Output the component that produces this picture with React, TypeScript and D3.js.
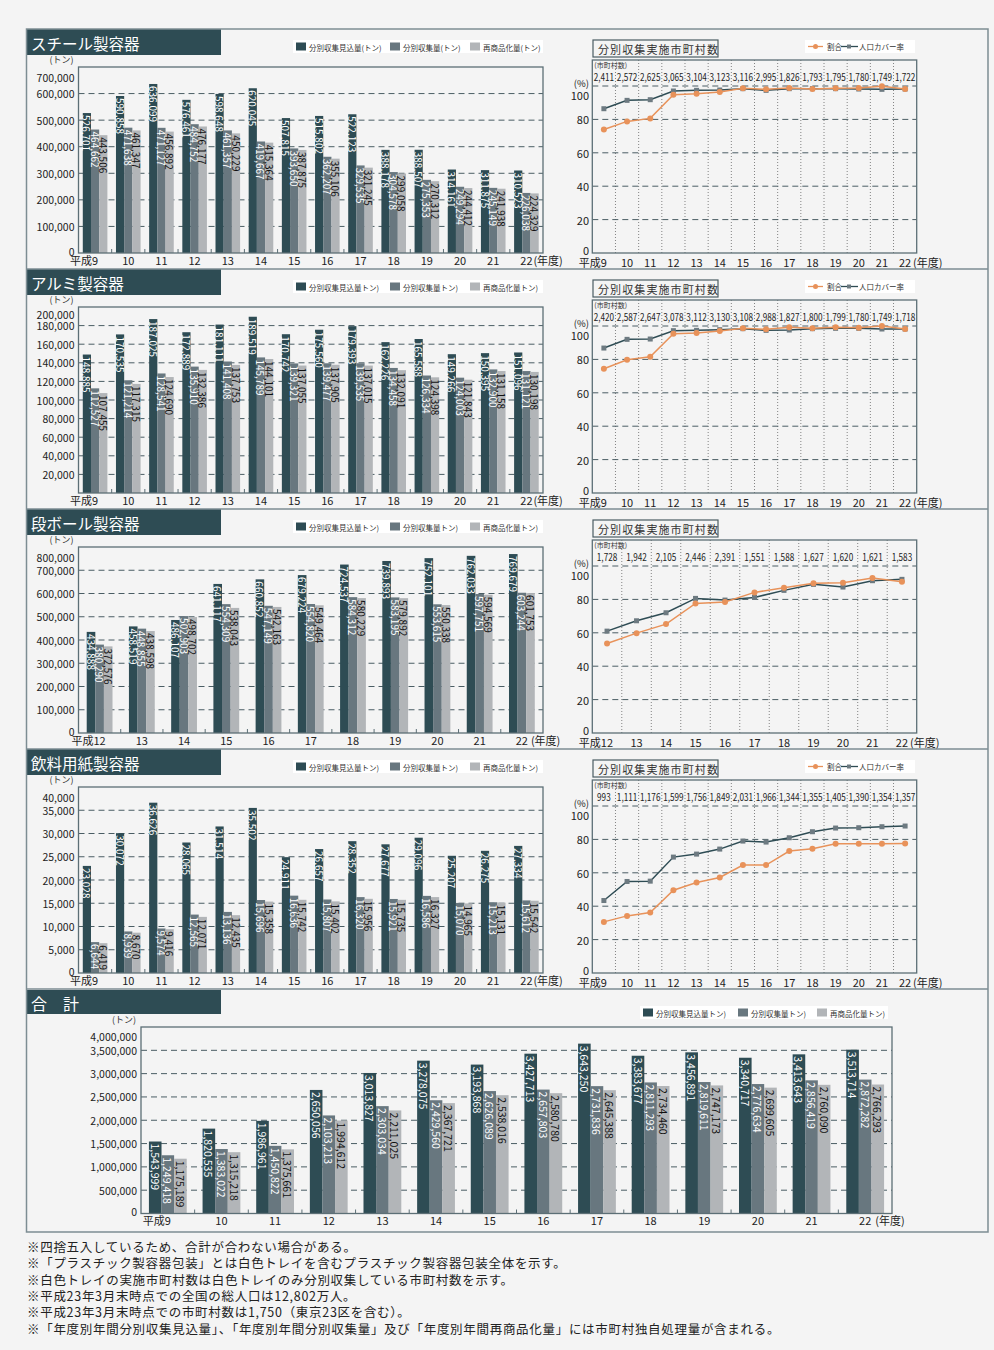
import React from 'react';
import * as d3 from 'd3';

const FONT = "'Noto Sans CJK JP','Noto Sans',sans-serif";

// ---------------- data ----------------
const yearsA = ['9', '10', '11', '12', '13', '14', '15', '16', '17', '18', '19', '20', '21', '22'];
const yearsB = ['12', '13', '14', '15', '16', '17', '18', '19', '20', '21', '22'];

const legendSteel = ['分別収集見込量(トン)', '分別収集量(トン)', '再商品化量(トン)'];
const legendOther = ['分別収集見込量トン)', '分別収集量トン)', '再商品化量トン)'];
const lineLegend = ['割合', '人口カバー率'];

const steelPlanned = [526701, 590858, 636099, 576461, 598648, 620045, 507815, 515802, 522123, 388178, 388507, 314161, 311875, 310523];
const steelCollected = [464662, 471638, 471127, 484752, 461357, 419667, 393650, 362207, 329535, 304578, 275353, 249294, 245149, 226038];
const steelRecycled = [443506, 461347, 456892, 476177, 450229, 415364, 387875, 355106, 321245, 299058, 270312, 244412, 241938, 224329];
const steelTicks = [0, 100000, 200000, 300000, 400000, 500000, 600000, 700000];
const steelMunis = ['2,411', '2,572', '2,625', '3,065', '3,104', '3,123', '3,116', '2,995', '1,826', '1,793', '1,795', '1,780', '1,749', '1,722'];
const steelShare = [74, 78.8, 80.6, 94.8, 95.4, 96.4, 98.6, 98, 98.8, 98.2, 98.6, 98.8, 99.8, 98.2];
const steelCover = [86.4, 91.4, 91.8, 97, 97.4, 97.6, 98.4, 97.4, 98.4, 98.4, 98.4, 98.2, 98, 98.2];

const aluPlanned = [148885, 170535, 187025, 172889, 181111, 189519, 170742, 175560, 179393, 162226, 165588, 149266, 150395, 151096];
const aluCollected = [112527, 121214, 128541, 135910, 141408, 145789, 139321, 139477, 139535, 134458, 126334, 124003, 132900, 131121];
const aluRecycled = [107455, 117315, 124690, 132386, 137753, 144101, 137055, 137905, 137015, 132091, 124398, 121843, 131158, 130198];
const aluTicks = [20000, 40000, 60000, 80000, 100000, 120000, 140000, 160000, 180000, 200000];
const aluMunis = ['2,420', '2,587', '2,647', '3,078', '3,112', '3,130', '3,108', '2,988', '1,827', '1,800', '1,799', '1,780', '1,749', '1,718'];
const aluShare = [74.4, 79.8, 81.6, 95.4, 95.8, 97, 98.6, 98, 99.2, 98.6, 99.2, 99, 100, 98.2];
const aluCover = [86.8, 92, 92.2, 97.2, 97.4, 97.8, 98.4, 97.4, 97.6, 98.4, 98.6, 98.6, 98.2, 98.2];

const cardPlanned = [434888, 458519, 486107, 641117, 660852, 679224, 724537, 739893, 752101, 762033, 769679];
const cardCollected = [380290, 448855, 502903, 554309, 547149, 554820, 584312, 583195, 553615, 597751, 603244];
const cardRecycled = [372576, 438598, 498702, 538043, 542163, 549464, 580229, 579892, 550338, 594569, 601753];
const cardTicks = [0, 100000, 200000, 300000, 400000, 500000, 600000, 700000, 800000];
const cardMunis = ['1,728', '1,942', '2,105', '2,446', '2,391', '1,551', '1,588', '1,627', '1,620', '1,621', '1,583'];
const cardShare = [53.6, 59.8, 65.2, 77.6, 78.4, 84.2, 87, 89.6, 90, 92.8, 90.6];
const cardCover = [61, 67.2, 72, 80.6, 79.6, 81.2, 85.4, 89, 87.4, 91.2, 92];

const drinkPlanned = [23028, 30072, 36626, 28065, 31514, 35502, 24911, 26657, 28352, 27677, 29096, 25207, 26275, 27334];
const drinkCollected = [6644, 8939, 9574, 12565, 13136, 15696, 16636, 15807, 16320, 15921, 16586, 15070, 15213, 15612];
const drinkRecycled = [6419, 8670, 9416, 12071, 12435, 15358, 15742, 15402, 15956, 15735, 16327, 14965, 15131, 15542];
const drinkTicks = [0, 5000, 10000, 15000, 20000, 25000, 30000, 35000, 40000];
const drinkMunis = ['993', '1,111', '1,176', '1,599', '1,756', '1,849', '2,031', '1,966', '1,344', '1,355', '1,405', '1,390', '1,354', '1,357'];
const drinkShare = [30.6, 34.2, 36.2, 49.6, 54.2, 57.2, 64.6, 64.6, 73, 74.4, 77.4, 77.4, 77.4, 77.6];
const drinkCover = [43.4, 54.8, 55, 69.4, 71.2, 74.2, 79, 78.4, 81, 84.6, 86.8, 87, 87.6, 88];

const totalPlanned = [1543999, 1820535, 1986961, 2650056, 3013827, 3278075, 3193868, 3427713, 3643250, 3383677, 3456891, 3340717, 3413643, 3513714];
const totalCollected = [1249418, 1383022, 1450822, 2103213, 2303034, 2429560, 2626089, 2657803, 2731836, 2811293, 2819611, 2776634, 2856419, 2872282];
const totalRecycled = [1175189, 1315218, 1375661, 1994612, 2211025, 2367721, 2538016, 2580780, 2645388, 2734460, 2747173, 2699605, 2760090, 2766293];
const totalTicks = [0, 500000, 1000000, 1500000, 2000000, 2500000, 3000000, 3500000, 4000000];

const footnotes = [
  '※四捨五入しているため、合計が合わない場合がある。',
  '※「プラスチック製容器包装」とは白色トレイを含むプラスチック製容器包装全体を示す。',
  '※白色トレイの実施市町村数は白色トレイのみ分別収集している市町村数を示す。',
  '※平成23年3月末時点での全国の総人口は12,802万人。',
  '※平成23年3月末時点での市町村数は1,750（東京23区を含む）。',
  '※「年度別年間分別収集見込量」、「年度別年間分別収集量」及び「年度別年間再商品化量」には市町村独自処理量が含まれる。',
];

// ---------------- styles ----------------
const C_BG = '#f4f4f4';
const C_DARK = '#2e4c54';
const C_MID = '#68777f';
const C_LIGHT = '#b2b5b8';
const C_FRAME = '#5c6f76';
const C_GRID = '#4a5d64';
const C_ORANGE = '#e8925a';
const C_SQ = '#6d7a81';
const C_TEXT = '#222';
const BAR_COLORS = [C_DARK, C_MID, C_LIGHT];
const LABEL_COLORS = ['#ffffff', '#ffffff', '#111111'];
const fmt = d3.format(',');

function XLabels({ centers, labels, y, suffixDx, size = 11 }: any) {
  return (
    <g fontSize={size} fill={C_TEXT}>
      {labels.map((l: string, i: number) => {
        const cx = centers[i];
        if (i === 0) {
          return (
            <text key={i} x={cx + l.length * 3} y={y} textAnchor="end">
              {'平成' + l}
            </text>
          );
        }
        return (
          <text key={i} x={cx} y={y} textAnchor="middle">
            {l}
          </text>
        );
      })}
      <text x={centers[centers.length - 1] + suffixDx} y={y} textAnchor="start">
        (年度)
      </text>
    </g>
  );
}

function TitleBox({ x, y, w, h, text, size }: any) {
  return (
    <g>
      <rect x={x} y={y} width={w} height={h} fill={C_DARK} />
      <text x={x + 5} y={y + h / 2 + 1} dominantBaseline="central" fill="#fff" fontSize={size}>
        {text}
      </text>
    </g>
  );
}

function BarLegend({ x, y, w, offsets, labels, size }: any) {
  return (
    <g>
      <rect x={x} y={y} width={w} height={13} fill="#fff" />
      {labels.map((l: string, i: number) => (
        <g key={i}>
          <rect x={x + offsets[i]} y={y + 2.5} width={10} height={8} fill={BAR_COLORS[i]} />
          <text x={x + offsets[i] + 13} y={y + 7} dominantBaseline="central" fontSize={size} fill="#333">
            {l}
          </text>
        </g>
      ))}
    </g>
  );
}

function BarChart(p: any) {
  const x = d3.scaleBand<string>().domain(p.years).range([p.x0, p.x1]);
  const y = d3.scaleLinear().domain([0, p.yMax]).range([p.yB, p.yT]);
  const bw = x.bandwidth();
  const series = [p.planned, p.collected, p.recycled];
  const centers = p.years.map((yr: string) => (x(yr) as number) + bw / 2);
  return (
    <g>
      {p.ticks
        .filter((t: number) => t > 0 && t < p.yMax)
        .map((t: number) => (
          <line key={t} x1={p.x0} x2={p.x1} y1={y(t)} y2={y(t)} stroke={C_GRID} strokeWidth={1} strokeDasharray="6,4" />
        ))}
      {series.map((s: number[], si: number) =>
        s.map((v: number, i: number) => {
          const cx = centers[i] + (si - 1) * p.barW;
          return (
            <rect key={si + '-' + i} x={cx - p.barW / 2} y={y(v)} width={p.barW} height={p.yB - y(v)} fill={BAR_COLORS[si]} />
          );
        })
      )}
      {series.map((s: number[], si: number) =>
        s.map((v: number, i: number) => {
          const cx = centers[i] + (si - 1) * p.barW;
          return (
            <text
              key={'t' + si + '-' + i}
              transform={`translate(${cx},${y(v) + 2}) rotate(90)`}
              textAnchor="start"
              dominantBaseline="central"
              fontSize={p.labelSize}
              fill={LABEL_COLORS[si]}
            >
              {fmt(v)}
            </text>
          );
        })
      )}
      {p.years.slice(1).map((yr: string) => (
        <line key={'k' + yr} x1={x(yr)} x2={x(yr)} y1={p.yB} y2={p.yB - 4} stroke={C_FRAME} strokeWidth={1} />
      ))}
      <rect x={p.x0} y={p.yT} width={p.x1 - p.x0} height={p.yB - p.yT} fill="none" stroke={C_FRAME} strokeWidth={1.3} />
      <text x={p.x0 - 5} y={p.yT - 4} textAnchor="end" fontSize={9} fill="#333">
        (トン)
      </text>
      <g fontSize={10.5} fill={C_TEXT}>
        {p.ticks.map((t: number) => {
          let yy = y(t);
          if (t === p.yMax) yy += p.topShift;
          if (t === 0) yy -= 2;
          return (
            <text key={'y' + t} x={p.x0 - 4} y={yy} textAnchor="end" dominantBaseline="central">
              {fmt(t)}
            </text>
          );
        })}
      </g>
      <XLabels centers={centers} labels={p.years} y={p.labelY} suffixDx={p.suffixDx} />
    </g>
  );
}

function LinePanel({ top, years, munis, share, cover, legend }: any) {
  const x0 = 592.3,
    x1 = 916.7,
    yT = top + 31,
    yB = top + 224;
  const x = d3.scaleBand<string>().domain(years).range([x0, x1]);
  const y = d3.scaleLinear().domain([0, 100]).range([yB, top + 57]);
  const bw = x.bandwidth();
  const centers = years.map((yr: string) => (x(yr) as number) + bw / 2);
  const line = d3
    .line<number>()
    .x((_d, i) => centers[i])
    .y((d) => y(d));
  return (
    <g>
      <rect x={593} y={top + 11} width={125} height={17} fill="none" stroke="#4a5c63" strokeWidth={1.2} />
      <text x={598} y={top + 20} dominantBaseline="central" fontSize={11} letterSpacing={1.1} fill="#333">
        分別収集実施市町村数
      </text>
      {legend && (
        <g>
          <rect x={805} y={top + 11} width={110} height={13} fill="#fff" />
          <line x1={808} x2={823} y1={top + 17.5} y2={top + 17.5} stroke={C_ORANGE} strokeWidth={1.3} />
          <circle cx={815.5} cy={top + 17.5} r={2.5} fill={C_ORANGE} />
          <text x={827} y={top + 17.5} dominantBaseline="central" fontSize={7.5} fill="#333">
            {lineLegend[0]}
          </text>
          <line x1={841} x2={858} y1={top + 17.5} y2={top + 17.5} stroke={C_DARK} strokeWidth={1.3} />
          <rect x={847} y={top + 15.5} width={4} height={4} fill={C_SQ} />
          <text x={859} y={top + 17.5} dominantBaseline="central" fontSize={7.5} fill="#333">
            {lineLegend[1]}
          </text>
        </g>
      )}
      {years.slice(1).map((yr: string) => (
        <line key={'v' + yr} x1={x(yr)} x2={x(yr)} y1={yT} y2={yB} stroke="#666" strokeWidth={0.8} strokeDasharray="1,2" />
      ))}
      {[20, 40, 60, 80, 100].map((t) => (
        <line key={'h' + t} x1={x0} x2={x1} y1={y(t)} y2={y(t)} stroke={C_GRID} strokeWidth={1} strokeDasharray="6,4" />
      ))}
      <rect x={x0} y={yT} width={x1 - x0} height={yB - yT} fill="none" stroke={C_FRAME} strokeWidth={1.3} />
      <text x={x0 + 2} y={top + 36} dominantBaseline="central" fontSize={7} fill="#333">
        (市町村数)
      </text>
      {munis.map((m: string, i: number) => (
        <text
          key={'m' + i}
          transform={`translate(${centers[i]},${top + 48}) scale(0.78,1)`}
          textAnchor="middle"
          dominantBaseline="central"
          fontSize={10.5}
          fill={C_TEXT}
        >
          {m}
        </text>
      ))}
      <path d={line(cover) || ''} fill="none" stroke={C_DARK} strokeWidth={1.5} />
      {cover.map((v: number, i: number) => (
        <rect key={'s' + i} x={centers[i] - 2.5} y={y(v) - 2.5} width={5} height={5} fill={C_SQ} />
      ))}
      <path d={line(share) || ''} fill="none" stroke={C_ORANGE} strokeWidth={1.5} />
      {share.map((v: number, i: number) => (
        <circle key={'c' + i} cx={centers[i]} cy={y(v)} r={3} fill={C_ORANGE} />
      ))}
      <g fontSize={11} fill={C_TEXT}>
        <text x={589} y={top + 54} textAnchor="end" dominantBaseline="central" fontSize={9.5}>
          (%)
        </text>
        {[0, 20, 40, 60, 80, 100].map((t) => {
          let yy = y(t);
          if (t === 100) yy += 9;
          if (t === 0) yy -= 3.5;
          return (
            <text key={'yl' + t} x={589} y={yy} textAnchor="end" dominantBaseline="central">
              {t}
            </text>
          );
        })}
      </g>
      <XLabels centers={centers} labels={years} y={top + 237.5} suffixDx={8} />
    </g>
  );
}

function Section({ top, title, legendLabels, years, planned, collected, recycled, yMax, ticks, topShift, munis, share, cover, lineLegendOn }: any) {
  const is11 = years.length === 11;
  return (
    <g>
      <TitleBox x={26} y={top} w={195} h={26} text={title} size={15.5} />
      <BarLegend x={293} y={top + 11} w={250} offsets={[3, 97, 177]} labels={legendLabels} size={7.5} />
      <BarChart
        years={years}
        planned={planned}
        collected={collected}
        recycled={recycled}
        x0={78.5}
        x1={543}
        yT={top + 38}
        yB={top + 224}
        yMax={yMax}
        ticks={ticks}
        topShift={topShift}
        barW={is11 ? 8.6 : 8.2}
        labelSize={10}
        labelY={top + 236}
        suffixDx={is11 ? 9 : 7}
      />
      <LinePanel top={top} years={years} munis={munis} share={share} cover={cover} legend={lineLegendOn} />
    </g>
  );
}

export default function App() {
  const top5 = 989;
  return (
    <div style={{ position: 'absolute', left: 0, top: 0 }}>
      <svg width={994} height={1350} style={{ display: 'block', fontFamily: FONT }}>
        <rect x={0} y={0} width={994} height={1350} fill={C_BG} />
        <Section
          top={29}
          title="スチール製容器"
          legendLabels={legendSteel}
          years={yearsA}
          planned={steelPlanned}
          collected={steelCollected}
          recycled={steelRecycled}
          yMax={700000}
          ticks={steelTicks}
          topShift={10.5}
          munis={steelMunis}
          share={steelShare}
          cover={steelCover}
          lineLegendOn={true}
        />
        <Section
          top={269}
          title="アルミ製容器"
          legendLabels={legendOther}
          years={yearsA}
          planned={aluPlanned}
          collected={aluCollected}
          recycled={aluRecycled}
          yMax={200000}
          ticks={aluTicks}
          topShift={7}
          munis={aluMunis}
          share={aluShare}
          cover={aluCover}
          lineLegendOn={true}
        />
        <Section
          top={509}
          title="段ボール製容器"
          legendLabels={legendOther}
          years={yearsB}
          planned={cardPlanned}
          collected={cardCollected}
          recycled={cardRecycled}
          yMax={800000}
          ticks={cardTicks}
          topShift={10}
          munis={cardMunis}
          share={cardShare}
          cover={cardCover}
          lineLegendOn={false}
        />
        <Section
          top={749}
          title="飲料用紙製容器"
          legendLabels={legendOther}
          years={yearsA}
          planned={drinkPlanned}
          collected={drinkCollected}
          recycled={drinkRecycled}
          yMax={40000}
          ticks={drinkTicks}
          topShift={10}
          munis={drinkMunis}
          share={drinkShare}
          cover={drinkCover}
          lineLegendOn={true}
        />
        {/* total */}
        <TitleBox x={26} y={top5 + 1} w={195} h={24} text="合　計" size={16} />
        <BarLegend x={640} y={top5 + 17} w={248} offsets={[3, 98, 177]} labels={legendOther} size={7.5} />
        <BarChart
          years={yearsA}
          planned={totalPlanned}
          collected={totalCollected}
          recycled={totalRecycled}
          x0={141}
          x1={892}
          yT={top5 + 38}
          yB={top5 + 224.5}
          yMax={4000000}
          ticks={totalTicks}
          topShift={9}
          barW={12.6}
          labelSize={10.5}
          labelY={top5 + 236}
          suffixDx={10}
        />
        {/* frame & dividers */}
        <rect x={26.5} y={29} width={961.5} height={1203} fill="none" stroke="#7d8d93" strokeWidth={1.5} />
        {[269, 509, 749, 989].map((yy) => (
          <line key={yy} x1={26.5} x2={988} y1={yy} y2={yy} stroke="#7d8d93" strokeWidth={1.5} />
        ))}
        <g fontSize={12.5} fill={C_TEXT} letterSpacing={0.7}>
          {footnotes.map((f, i) => (
            <text key={i} x={27} y={1252 + i * 16.3}>
              {f}
            </text>
          ))}
        </g>
      </svg>
    </div>
  );
}
